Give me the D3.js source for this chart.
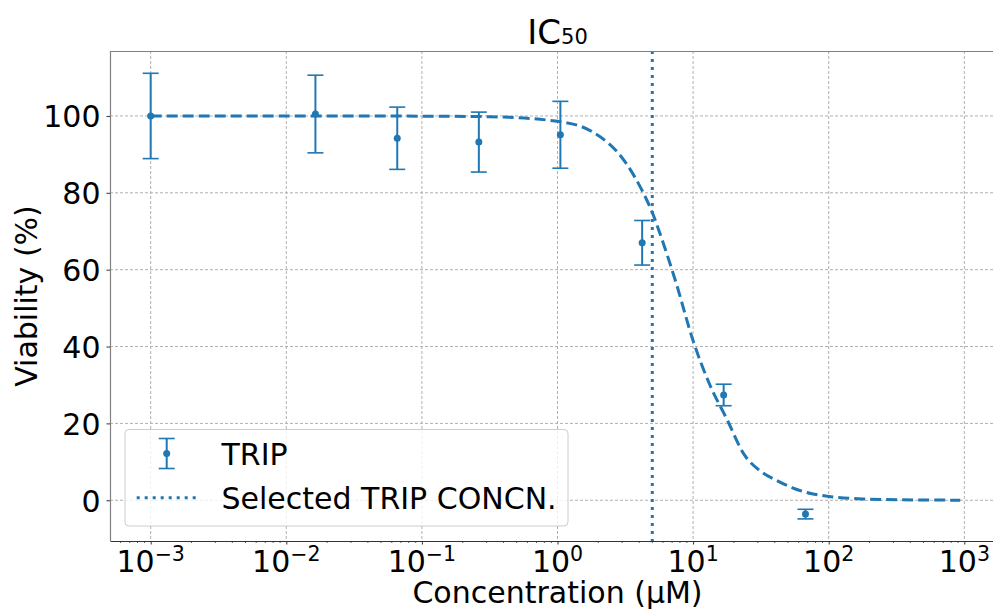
<!DOCTYPE html>
<html>
<head>
<meta charset="utf-8">
<script src="https://cdn.jsdelivr.net/npm/d3@7"></script>
<style>
  body { margin: 0; background: #fff; }
  svg { font-family: "DejaVu Sans", sans-serif; }
</style>
</head>
<body>
<svg id="chart" width="993" height="610"></svg>
<script>
// measured points (concentration in uM, viability %, std)
const conc = [0.001, 0.0164, 0.0658, 0.263, 1.05, 4.21, 16.8, 67.4];
const viability = [100.0, 100.5, 94.2, 93.2, 95.1, 67.0, 27.4, -3.6];
const stdDev = [11.1, 10.1, 8.1, 7.8, 8.7, 5.8, 2.8, 1.25];

// fitted curve
const fitConc = [0.001, 0.01, 0.1, 0.316, 1, 1.78, 3.16, 4.22, 5.01, 5.62, 7.5, 10, 13.3, 17.8, 23.7, 31.6, 42.2, 56.2, 75, 100, 178, 316, 933];
const fitViab = [100, 100, 99.95, 99.8, 98.6, 96, 88, 80.5, 74.8, 70, 56.5, 41.5, 30, 21, 12, 7.5, 5.0, 3.0, 1.7, 1.0, 0.35, 0.15, 0.02];

const selectedConc = 5.0;

const xMajor = [1e-3, 1e-2, 1e-1, 1e0, 1e1, 1e2, 1e3];
const xExp = ['\u22123', '\u22122', '\u22121', '0', '1', '2', '3'];
const yTicks = [0, 20, 40, 60, 80, 100];

const blue = '#1f77b4';
const pLeft = 110, pRight = 1005, pTop = 51, pBottom = 541;
const fontPx = '30px';

const svg = d3.select('#chart');

const x = d3.scaleLog()
  .domain([Math.pow(10, -3.3), Math.pow(10, 3.3)])
  .range([pLeft, pRight]);

const y = d3.scaleLinear()
  .domain([-10.6, 116.9])
  .range([pBottom, pTop]);

svg.append('defs').append('clipPath').attr('id', 'plot')
  .append('rect')
  .attr('x', pLeft).attr('y', pTop)
  .attr('width', pRight - pLeft).attr('height', pBottom - pTop);

// minor ticks
let xMinor = [];
for (let e = -4; e <= 3; e++) {
  for (let k = 2; k <= 9; k++) {
    const v = k * Math.pow(10, e);
    if (v > x.domain()[0] && v < x.domain()[1]) xMinor.push(v);
  }
}

// grid
svg.append('g')
  .selectAll('line')
  .data(xMajor)
  .enter()
  .append('line')
  .attr('x1', d => x(d)).attr('x2', d => x(d))
  .attr('y1', pTop).attr('y2', pBottom)
  .attr('stroke', '#b0b0b0')
  .attr('stroke-width', 1)
  .attr('stroke-dasharray', '3,2');

svg.append('g')
  .selectAll('line')
  .data(yTicks)
  .enter()
  .append('line')
  .attr('x1', pLeft).attr('x2', pRight)
  .attr('y1', d => y(d)).attr('y2', d => y(d))
  .attr('stroke', '#b0b0b0')
  .attr('stroke-width', 1)
  .attr('stroke-dasharray', '3,2');

const plot = svg.append('g').attr('clip-path', 'url(#plot)');

// fitted curve
const line = d3.line()
  .x(d => x(d[0]))
  .y(d => y(d[1]))
  .curve(d3.curveMonotoneX);

plot.append('path')
  .datum(fitConc.map((c, i) => [c, fitViab[i]]))
  .attr('d', line)
  .attr('fill', 'none')
  .attr('stroke', blue)
  .attr('stroke-width', 3)
  .attr('stroke-dasharray', '11,5');

// selected concentration
plot.append('line')
  .attr('x1', x(selectedConc)).attr('x2', x(selectedConc))
  .attr('y1', pTop).attr('y2', pBottom)
  .attr('stroke', blue)
  .attr('stroke-width', 3)
  .attr('stroke-dasharray', '3,5');

// error bars
const pts = conc.map((c, i) => ({c: c, v: viability[i], s: stdDev[i]}));

const eb = plot.append('g')
  .selectAll('g')
  .data(pts)
  .enter()
  .append('g');

eb.append('line')
  .attr('x1', d => x(d.c)).attr('x2', d => x(d.c))
  .attr('y1', d => y(d.v - d.s)).attr('y2', d => y(d.v + d.s))
  .attr('stroke', blue).attr('stroke-width', 2);

eb.append('line')
  .attr('x1', d => x(d.c) - 8).attr('x2', d => x(d.c) + 8)
  .attr('y1', d => y(d.v + d.s)).attr('y2', d => y(d.v + d.s))
  .attr('stroke', blue).attr('stroke-width', 1.6);

eb.append('line')
  .attr('x1', d => x(d.c) - 8).attr('x2', d => x(d.c) + 8)
  .attr('y1', d => y(d.v - d.s)).attr('y2', d => y(d.v - d.s))
  .attr('stroke', blue).attr('stroke-width', 1.6);

eb.append('circle')
  .attr('cx', d => x(d.c))
  .attr('cy', d => y(d.v))
  .attr('r', 3.5)
  .attr('fill', blue);

// spines
svg.append('line')
  .attr('x1', pLeft).attr('x2', pRight).attr('y1', pTop + 0.5).attr('y2', pTop + 0.5)
  .attr('stroke', '#808080').attr('stroke-width', 1.2);
svg.append('line')
  .attr('x1', pLeft + 0.5).attr('x2', pLeft + 0.5).attr('y1', pTop).attr('y2', pBottom)
  .attr('stroke', '#808080').attr('stroke-width', 1.2);

// x axis
const xAxis = svg.append('g')
  .attr('transform', `translate(0,${pBottom})`)
  .call(d3.axisBottom(x).tickValues(xMajor).tickFormat('').tickSize(3.5).tickSizeOuter(0));
xAxis.select('.domain').attr('stroke', '#333').attr('stroke-width', 1.2);
xAxis.selectAll('.tick line').attr('stroke', '#333');

svg.append('g')
  .attr('transform', `translate(0,${pBottom})`)
  .selectAll('line')
  .data(xMinor)
  .enter()
  .append('line')
  .attr('x1', d => x(d)).attr('x2', d => x(d))
  .attr('y1', 0).attr('y2', 2)
  .attr('stroke', '#333').attr('stroke-width', 0.8);

const xLab = svg.append('g')
  .selectAll('text')
  .data(xMajor)
  .enter()
  .append('text')
  .attr('x', d => x(d))
  .attr('y', 571.7)
  .attr('text-anchor', 'middle')
  .style('font-size', fontPx)
  .attr('fill', '#000');
xLab.append('tspan').text('10');
xLab.append('tspan')
  .attr('dy', -11)
  .style('font-size', '20.5px')
  .text((d, i) => xExp[i]);

// y axis
const yAxis = svg.append('g')
  .attr('transform', `translate(${pLeft},0)`)
  .call(d3.axisLeft(y).tickValues(yTicks).tickSize(3.5).tickSizeOuter(0).tickPadding(6));
yAxis.select('.domain').remove();
yAxis.selectAll('.tick line').attr('stroke', '#333');
yAxis.selectAll('.tick text')
  .style('font-size', fontPx)
  .style('font-family', '"DejaVu Sans", sans-serif')
  .attr('fill', '#000')
  .attr('dy', '0.36em');

// labels
svg.append('text')
  .attr('x', (pLeft + pRight) / 2)
  .attr('y', 603)
  .attr('text-anchor', 'middle')
  .style('font-size', fontPx)
  .text('Concentration (\u03bcM)');

svg.append('text')
  .attr('transform', `translate(37,${(pTop + pBottom) / 2}) rotate(-90)`)
  .attr('text-anchor', 'middle')
  .style('font-size', fontPx)
  .text('Viability (%)');

const title = svg.append('text')
  .attr('x', (pLeft + pRight) / 2)
  .attr('y', 43.5)
  .attr('text-anchor', 'middle')
  .style('font-size', '34px');
title.append('tspan').text('IC');
title.append('tspan').style('font-size', '21px').text('50');

// legend
const lg = svg.append('g');
lg.append('rect')
  .attr('x', 125).attr('y', 429.5)
  .attr('width', 443).attr('height', 96.5)
  .attr('rx', 4)
  .attr('fill', '#fff').attr('fill-opacity', 0.8)
  .attr('stroke', '#cccccc').attr('stroke-width', 1);

lg.append('line')
  .attr('x1', 166.7).attr('x2', 166.7).attr('y1', 438.5).attr('y2', 468.5)
  .attr('stroke', blue).attr('stroke-width', 2);
lg.selectAll('line.cap')
  .data([438.5, 468.5])
  .enter()
  .append('line')
  .attr('class', 'cap')
  .attr('x1', 158.7).attr('x2', 174.7)
  .attr('y1', d => d).attr('y2', d => d)
  .attr('stroke', blue).attr('stroke-width', 1.6);
lg.append('circle')
  .attr('cx', 166.7).attr('cy', 453.5).attr('r', 3.5).attr('fill', blue);

lg.append('line')
  .attr('x1', 136.7).attr('x2', 197).attr('y1', 497.7).attr('y2', 497.7)
  .attr('stroke', blue).attr('stroke-width', 3)
  .attr('stroke-dasharray', '3,5');

lg.selectAll('text')
  .data(['TRIP', 'Selected TRIP CONCN.'])
  .enter()
  .append('text')
  .attr('x', 221.5)
  .attr('y', (d, i) => 465 + i * 44)
  .style('font-size', fontPx)
  .text(d => d);
</script>
</body>
</html>
